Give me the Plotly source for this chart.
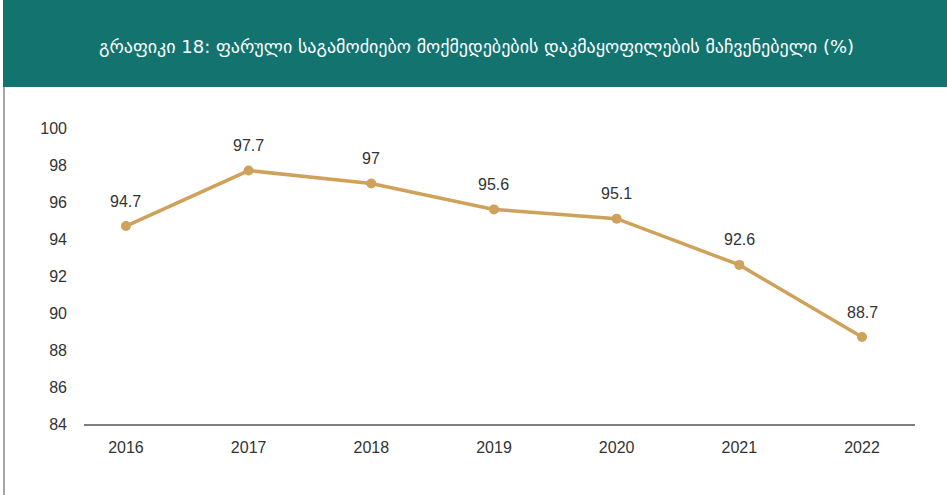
import plotly.graph_objects as go

# Share of covert investigative actions granted, by year (%)
years = [2016, 2017, 2018, 2019, 2020, 2021, 2022]
rates = [94.7, 97.7, 97.0, 95.6, 95.1, 92.6, 88.7]
rate_labels = ["94.7", "97.7", "97", "95.6", "95.1", "92.6", "88.7"]
y_ticks = [84, 86, 88, 90, 92, 94, 96, 98, 100]
title_text = "გრაფიკი 18: ფარული საგამოძიებო მოქმედებების დაკმაყოფილების მაჩვენებელი (%)"

W, H = 947, 495
ML, MR, MT, MB = 84, 32, 128, 71
PW, PH = W - ML - MR, H - MT - MB

TEAL = "#12736F"
GOLD = "#CFA15B"
TEXT = "#333333"
FONT = "Liberation Sans, Arial, sans-serif"


def px_x(px):
    return (px - ML) / PW


def px_y(py):
    return (H - MB - py) / PH


fig = go.Figure()
fig.add_trace(go.Scatter(
    x=years, y=rates,
    mode="lines+markers",
    line=dict(color=GOLD, width=3.5),
    marker=dict(color=GOLD, size=10),
    cliponaxis=False,
    hoverinfo="skip",
    showlegend=False,
))

# value labels above each point
for yr, val, lab in zip(years, rates, rate_labels):
    fig.add_annotation(x=yr, y=val, text=lab, showarrow=False,
                       yshift=25, xanchor="center", yanchor="middle",
                       font=dict(family=FONT, size=16, color=TEXT))

# header band, left rule and title
fig.add_shape(type="rect", xref="paper", yref="paper",
              x0=px_x(3), x1=px_x(W + 2), y0=px_y(87), y1=px_y(-2),
              fillcolor=TEAL, line=dict(width=0), layer="below")
fig.add_shape(type="line", xref="paper", yref="paper",
              x0=px_x(4), x1=px_x(4), y0=px_y(87), y1=px_y(H + 2),
              line=dict(color="#8a8a8a", width=1.5))
fig.add_annotation(text=title_text, xref="paper", yref="paper",
                   x=px_x(476), y=px_y(47), xanchor="center", yanchor="middle",
                   showarrow=False,
                   font=dict(family="DejaVu Sans", size=18, color="white"))

fig.update_layout(
    width=W, height=H,
    margin=dict(l=ML, r=MR, t=MT, b=MB),
    paper_bgcolor="white", plot_bgcolor="white",
    font=dict(family=FONT, size=16, color=TEXT),
    xaxis=dict(
        range=[2015.658, 2022.432],
        tickvals=years, ticktext=[str(y) for y in years],
        showgrid=False, zeroline=False,
        showline=True, linecolor="#7f7f7f", linewidth=1.5,
        ticks="", ticklabelstandoff=8,
        tickfont=dict(size=16, color=TEXT),
        fixedrange=True,
    ),
    yaxis=dict(
        range=[84, 100],
        tickvals=y_ticks,
        showgrid=False, zeroline=False, showline=False,
        ticks="", ticklabelstandoff=16,
        tickfont=dict(size=16, color=TEXT),
        fixedrange=True,
    ),
)

fig.write_html("out.html")
